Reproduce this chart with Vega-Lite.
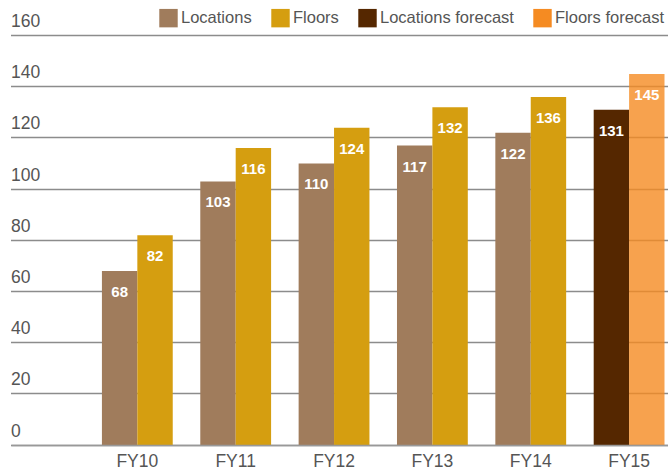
{
  "$schema": "https://vega.github.io/schema/vega-lite/v6.json",
  "width": 657,
  "height": 409.5,
  "autosize": "none",
  "padding": {"left": 11, "top": 35.5, "right": 0, "bottom": 23},
  "background": "white",
  "config": {
    "view": {"stroke": null},
    "font": "Liberation Sans"
  },
  "data": {
    "values": [
      {"year": "FY10", "type": "Locations", "series": "Locations", "value": 68},
      {"year": "FY10", "type": "Floors", "series": "Floors", "value": 82},
      {"year": "FY11", "type": "Locations", "series": "Locations", "value": 103},
      {"year": "FY11", "type": "Floors", "series": "Floors", "value": 116},
      {"year": "FY12", "type": "Locations", "series": "Locations", "value": 110},
      {"year": "FY12", "type": "Floors", "series": "Floors", "value": 124},
      {"year": "FY13", "type": "Locations", "series": "Locations", "value": 117},
      {"year": "FY13", "type": "Floors", "series": "Floors", "value": 132},
      {"year": "FY14", "type": "Locations", "series": "Locations", "value": 122},
      {"year": "FY14", "type": "Floors", "series": "Floors", "value": 136},
      {"year": "FY15", "type": "Locations", "series": "Locations forecast", "value": 131},
      {"year": "FY15", "type": "Floors", "series": "Floors forecast", "value": 145}
    ]
  },
  "encoding": {
    "x": {
      "field": "year",
      "type": "nominal",
      "sort": null,
      "scale": {"paddingInner": 0.28, "paddingOuter": 0.48, "align": 0.963},
      "axis": {
        "title": null,
        "labelAngle": 0,
        "labelFontSize": 17.5,
        "labelColor": "#555555",
        "labelPadding": 7,
        "ticks": false,
        "domain": true,
        "domainColor": "#999999",
        "domainWidth": 1.5,
        "grid": false,
        "zindex": 1
      }
    },
    "xOffset": {
      "field": "type",
      "type": "nominal",
      "sort": ["Locations", "Floors"],
      "scale": {"paddingInner": 0, "paddingOuter": 0}
    },
    "y": {
      "field": "value",
      "type": "quantitative",
      "scale": {"domain": [0, 160], "nice": false},
      "axis": {
        "title": null,
        "values": [0, 20, 40, 60, 80, 100, 120, 140, 160],
        "labelAlign": "left",
        "labelBaseline": "alphabetic",
        "labelPadding": 0,
        "labelOffset": -8.5,
        "labelFontSize": 17.5,
        "labelColor": "#555555",
        "ticks": false,
        "domain": false,
        "grid": true,
        "gridColor": "#8c8c8c",
        "gridWidth": 1.3,
        "translate": 0,
        "zindex": 0
      }
    }
  },
  "layer": [
    {
      "mark": {"type": "bar"},
      "encoding": {
        "color": {
          "field": "series",
          "type": "nominal",
          "scale": {
            "domain": ["Locations", "Floors", "Locations forecast", "Floors forecast"],
            "range": ["#A07C5C", "#D59E10", "#552700", "#F58B22"]
          },
          "legend": {
            "title": null,
            "orient": "none",
            "direction": "horizontal",
            "legendX": 148,
            "legendY": -27,
            "symbolType": "square",
            "symbolSize": 340,
            "symbolStrokeWidth": 0,
            "symbolOpacity": 1,
            "labelFontSize": 16.5,
            "labelColor": "#555555",
            "labelOffset": 3,
            "columnPadding": 19,
            "labelLimit": 300
          }
        },
        "opacity": {
          "condition": {"test": "datum.series === 'Floors forecast'", "value": 0.8},
          "value": 1
        }
      }
    },
    {
      "mark": {
        "type": "text",
        "color": "white",
        "fontWeight": "bold",
        "fontSize": 15,
        "baseline": "middle",
        "dy": 21
      },
      "encoding": {
        "text": {"field": "value", "type": "quantitative"}
      }
    }
  ]
}
